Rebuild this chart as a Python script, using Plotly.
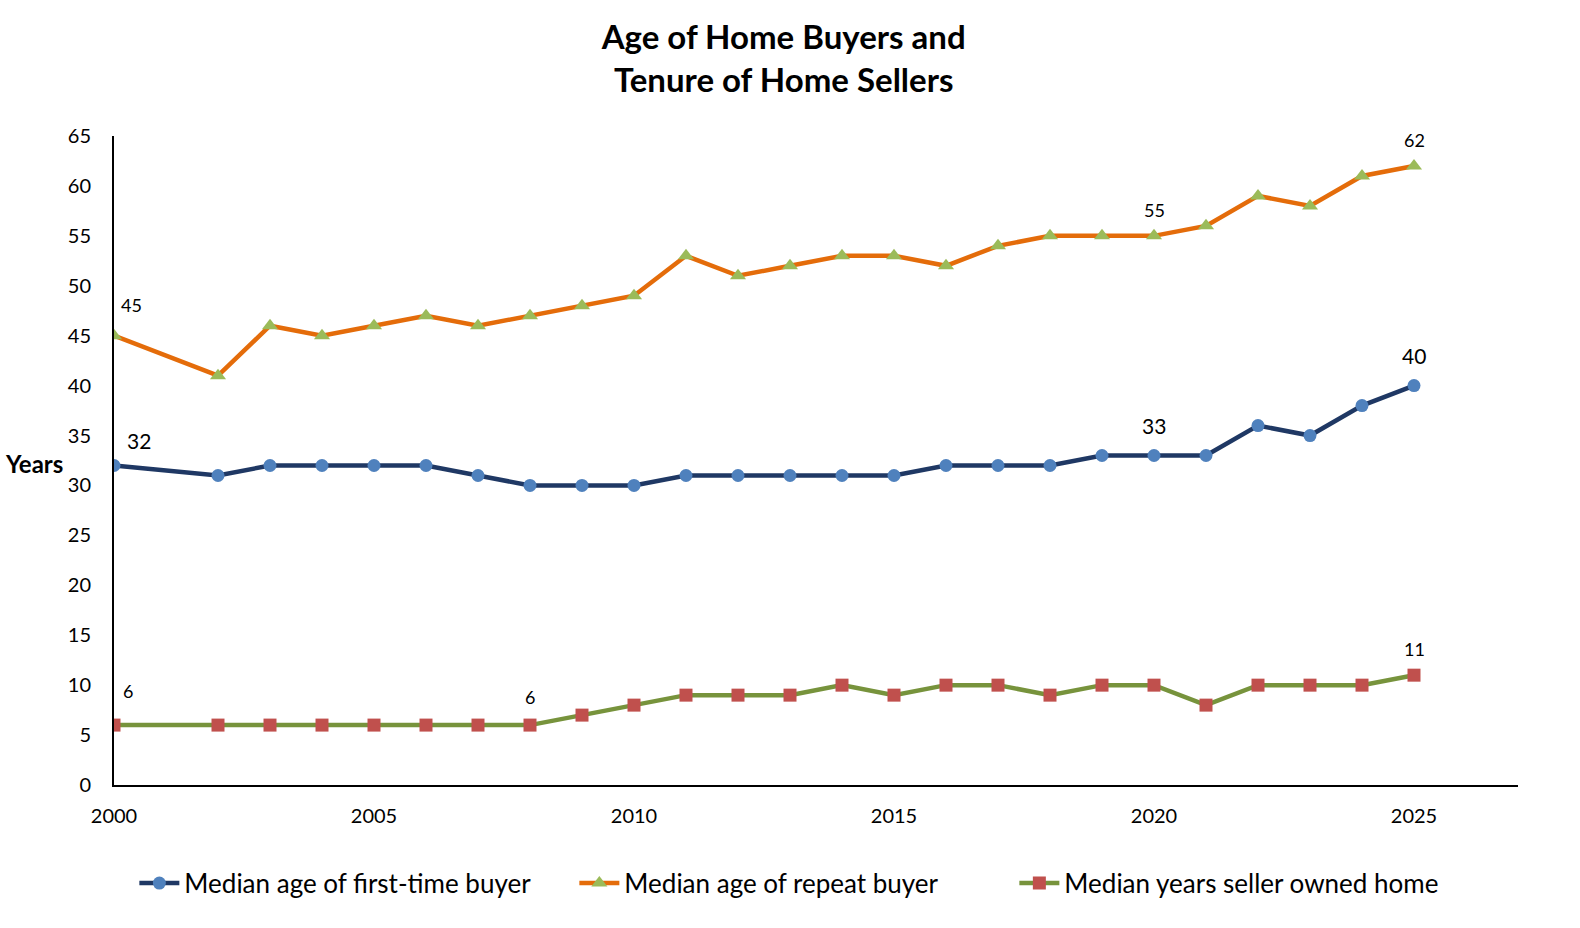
import plotly.graph_objects as go

years = [2000, 2002, 2003, 2004, 2005, 2006, 2007, 2008, 2009, 2010, 2011, 2012, 2013,
         2014, 2015, 2016, 2017, 2018, 2019, 2020, 2021, 2022, 2023, 2024, 2025]
first_time = [32, 31, 32, 32, 32, 32, 31, 30, 30, 30, 31, 31, 31, 31, 31, 32, 32, 32, 33, 33, 33, 36, 35, 38, 40]
repeat = [45, 41, 46, 45, 46, 47, 46, 47, 48, 49, 53, 51, 52, 53, 53, 52, 54, 55, 55, 55, 56, 59, 58, 61, 62]
tenure = [6, 6, 6, 6, 6, 6, 6, 6, 7, 8, 9, 9, 9, 10, 9, 10, 10, 9, 10, 10, 8, 10, 10, 10, 11]

FONT = "Lato"

fig = go.Figure()
fig.add_trace(go.Scatter(x=years, y=first_time, mode="lines+markers",
                         name="Median age of first-time buyer",
                         line=dict(color="#1F3864", width=4.5),
                         marker=dict(symbol="circle", size=13, color="#4F81BD")))
fig.add_trace(go.Scatter(x=years, y=repeat, mode="lines+markers",
                         name="Median age of repeat buyer",
                         line=dict(color="#E46C0A", width=4.5),
                         marker=dict(symbol="triangle-up", size=14, color="#9BBB59")))
fig.add_trace(go.Scatter(x=years, y=tenure, mode="lines+markers",
                         name="Median years seller owned home",
                         line=dict(color="#77933C", width=4.5),
                         marker=dict(symbol="square", size=13, color="#C0504D")))

def lab(idx, series, size, xshift, yshift):
    fig.add_annotation(x=years[idx], y=series[idx], text=str(series[idx]), showarrow=False,
                       xshift=xshift, yshift=yshift,
                       font=dict(family=FONT, size=size, color="black"))

i2000, i2008, i2020, i2025 = years.index(2000), years.index(2008), years.index(2020), years.index(2025)
lab(i2000, repeat, 18, 17, 31)
lab(i2000, first_time, 21, 25, 25)
lab(i2000, tenure, 18, 14, 34)
lab(i2008, tenure, 18, 0, 28)
lab(i2020, repeat, 18, 0, 26)
lab(i2020, first_time, 21, 0, 30)
lab(i2025, repeat, 18, 0, 26)
lab(i2025, first_time, 21, 0, 30)
lab(i2025, tenure, 18, 0, 26)

fig.add_annotation(x=0, xref="paper", xanchor="right", xshift=-49, y=32.2, yref="y",
                   text="<b>Years</b>", showarrow=False,
                   font=dict(family=FONT, size=24, color="black"))

fig.update_layout(
    width=1580, height=928,
    paper_bgcolor="white", plot_bgcolor="white",
    margin=dict(l=114, r=62, t=136, b=143, autoexpand=False),
    title=dict(text="<b>Age of Home Buyers and<br>Tenure of Home Sellers</b>",
               x=0.496, xanchor="center", y=0.947, yanchor="top",
               font=dict(family=FONT, size=33, color="black")),
    font=dict(family=FONT, color="black"),
    showlegend=True,
    legend=dict(orientation="h", x=0.0145, xanchor="left", y=-0.115, yanchor="top",
                font=dict(family=FONT, size=26, color="black"),
                itemwidth=40, tracegroupgap=0, entrywidth=385, entrywidthmode="pixels"),
)
fig.update_xaxes(range=[2000, 2027], tickvals=[2000, 2005, 2010, 2015, 2020, 2025],
                 showgrid=False, zeroline=False, showline=True, linecolor="black", linewidth=2,
                 ticks="", tickfont=dict(family=FONT, size=20, color="black"), ticklabelstandoff=12)
fig.update_yaxes(range=[0, 65], dtick=5, showgrid=False, zeroline=False,
                 showline=True, linecolor="black", linewidth=2, ticks="",
                 tickfont=dict(family=FONT, size=20, color="black"), ticklabelstandoff=17)

fig.write_html("out.html", config={"displayModeBar": False},
               post_script="document.body.style.margin='0px';")
